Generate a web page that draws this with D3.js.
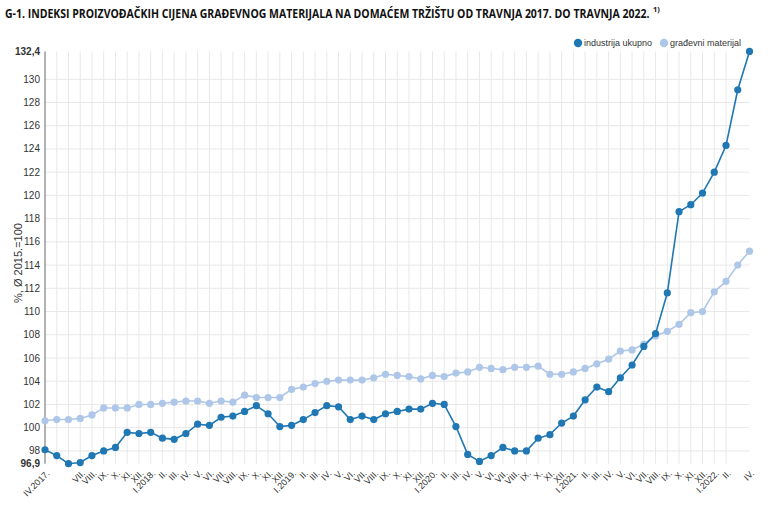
<!DOCTYPE html>
<html>
<head>
<meta charset="utf-8">
<script src="https://cdn.jsdelivr.net/npm/d3@7"></script>
<style>
	body { margin: 0; background: #fff; }
	svg { display: block; font-family: "Liberation Sans", Arial, sans-serif; }
</style>
</head>
<body>
<div id="chart"></div>
<script>
var months = ["IV.2017.","V.","VI.","VII.","VIII.","IX.","X.","XI.","XII.",
	"I.2018.","II.","III.","IV.","V.","VI.","VII.","VIII.","IX.","X.","XI.","XII.",
	"I.2019.","II.","III.","IV.","V.","VI.","VII.","VIII.","IX.","X.","XI.","XII.",
	"I.2020.","II.","III.","IV.","V.","VI.","VII.","VIII.","IX.","X.","XI.","XII.",
	"I.2021.","II.","III.","IV.","V.","VI.","VII.","VIII.","IX.","X.","XI.","XII.",
	"I.2022.","II.","III.","IV."];
// labels skipped on the axis in the original
var hiddenLabels = [1, 2, 59];

var industrija = [98.1, 97.6, 96.9, 97.0, 97.6, 98.0, 98.3, 99.6, 99.5,
	99.6, 99.1, 99.0, 99.5, 100.3, 100.2, 100.9, 101.0, 101.4, 101.9, 101.2, 100.1,
	100.2, 100.7, 101.3, 101.9, 101.8, 100.7, 101.0, 100.7, 101.2, 101.4, 101.6, 101.6,
	102.1, 102.0, 100.1, 97.7, 97.1, 97.6, 98.3, 98.0, 98.0, 99.1, 99.4, 100.4,
	101.0, 102.4, 103.5, 103.1, 104.3, 105.4, 107.0, 108.1, 111.6, 118.6, 119.2, 120.2,
	122.0, 124.3, 129.1, 132.4];
var gradevni = [100.6, 100.7, 100.7, 100.8, 101.1, 101.7, 101.7, 101.7, 102.0,
	102.0, 102.1, 102.2, 102.3, 102.3, 102.1, 102.3, 102.2, 102.8, 102.6, 102.6, 102.6,
	103.3, 103.5, 103.8, 104.0, 104.1, 104.1, 104.1, 104.3, 104.6, 104.5, 104.4, 104.2,
	104.5, 104.4, 104.7, 104.8, 105.2, 105.1, 105.0, 105.2, 105.2, 105.3, 104.6, 104.6,
	104.8, 105.1, 105.5, 105.9, 106.6, 106.7, 107.2, 107.9, 108.3, 108.9, 109.9, 110.0,
	111.7, 112.6, 114.0, 115.2];

var yMin = 96.9, yMax = 132.4;
var yTicks = [98, 100, 102, 104, 106, 108, 110, 112, 114, 116, 118, 120, 122, 124, 126, 128, 130];

var seriesNames = ["industrija ukupno", "građevni materijal"];
var colors = ["#1f77b4", "#aec7e8"];

var width = 768, height = 507;
var margin = {top: 51.4, right: 18.5, bottom: 43.3, left: 45};

var svg = d3.select("#chart").append("svg")
	.attr("width", width)
	.attr("height", height);

var x = d3.scalePoint()
	.domain(d3.range(months.length))
	.range([margin.left, width - margin.right]);

var y = d3.scaleLinear()
	.domain([yMin, yMax])
	.range([height - margin.bottom, margin.top]);

var fmt = function(d) { return d3.format(".1f")(d).replace(".", ",").replace(",0", ""); };

// title - condensed look by squeezing horizontally
var titleG = svg.append("g");
var title = titleG.append("text")
	.style("font-family", "'Open Sans', sans-serif")
	.style("font-weight", "bold")
	.style("font-size", "12.5px")
	.style("fill", "#111")
	.text("G-1. INDEKSI PROIZVOĐAČKIH CIJENA GRAĐEVNOG MATERIJALA NA DOMAĆEM TRŽIŠTU OD TRAVNJA 2017. DO TRAVNJA 2022.");
var sx = 645 / title.node().getComputedTextLength();
titleG.attr("transform", "translate(5,18) scale(" + sx + ",1)");
svg.append("text")
	.attr("x", 653)
	.attr("y", 12)
	.style("font-family", "'Open Sans', sans-serif")
	.style("font-weight", "bold")
	.style("font-size", "7.5px")
	.style("fill", "#111")
	.text("1)");

// grid
var grid = svg.append("g").attr("class", "grid");
grid.selectAll(".hgrid")
		.data(yTicks)
	.enter().append("line")
		.attr("x1", margin.left)
		.attr("x2", width - margin.right)
		.attr("y1", function(d) { return y(d); })
		.attr("y2", function(d) { return y(d); })
		.style("stroke", "#e8e8e8");
grid.selectAll(".vgrid")
		.data(d3.range(1, months.length - 2))
	.enter().append("line")
		.attr("x1", function(d) { return x(d); })
		.attr("x2", function(d) { return x(d); })
		.attr("y1", y(yMax))
		.attr("y2", y(yMin))
		.style("stroke", "#e8e8e8");

// y axis
svg.append("line")
	.attr("x1", margin.left).attr("x2", margin.left)
	.attr("y1", y(yMax)).attr("y2", y(yMin))
	.style("stroke", "#666");

svg.append("g").selectAll("text")
		.data(yTicks.concat([yMin, yMax]))
	.enter().append("text")
		.attr("x", margin.left - 5)
		.attr("y", function(d) { return y(d); })
		.attr("dy", ".35em")
		.attr("text-anchor", "end")
		.style("font-size", "10px")
		.style("fill", "#333")
		.style("font-weight", function(d) { return (d === yMin || d === yMax) ? "bold" : "normal"; })
		.text(fmt);

svg.append("text")
	.attr("transform", "translate(22," + 263 + ") rotate(-90)")
	.attr("text-anchor", "middle")
	.style("font-size", "11px")
	.style("fill", "#333")
	.text("%, Ø 2015.=100");

// x labels
svg.append("g").selectAll("text")
		.data(d3.range(months.length).filter(function(i) { return hiddenLabels.indexOf(i) < 0; }))
	.enter().append("text")
		.attr("transform", function(i) {
			return "translate(" + (x(i) + 3) + "," + (y(yMin) + 8) + ") rotate(-45)";
		})
		.attr("text-anchor", "end")
		.attr("dy", ".35em")
		.style("font-size", "9px")
		.style("fill", "#333")
		.text(function(i) { return months[i]; });

// lines and points
var series = [industrija, gradevni];
var line = d3.line()
	.x(function(d, i) { return x(i); })
	.y(function(d) { return y(d); });

var sg = svg.append("g").selectAll(".series")
		.data([1, 0])
	.enter().append("g")
		.attr("class", "series");

sg.append("path")
	.attr("d", function(s) { return line(series[s]); })
	.style("fill", "none")
	.style("stroke", function(s) { return colors[s]; })
	.style("stroke-width", 1.6);

sg.each(function(s) {
	d3.select(this).selectAll("circle")
			.data(series[s])
		.enter().append("circle")
			.attr("cx", function(d, i) { return x(i); })
			.attr("cy", function(d) { return y(d); })
			.attr("r", 3.6)
			.style("fill", colors[s]);
});

// legend
var legend = svg.append("g").selectAll(".legend")
		.data(seriesNames)
	.enter().append("g")
		.attr("transform", function(d, i) { return "translate(" + [578, 664][i] + ",43)"; });
legend.append("circle")
	.attr("r", 4.2)
	.style("fill", function(d, i) { return colors[i]; });
legend.append("text")
	.attr("x", 6)
	.attr("dy", ".35em")
	.style("font-size", "9px")
	.style("fill", "#333")
	.text(function(d) { return d; });
</script>
</body>
</html>
